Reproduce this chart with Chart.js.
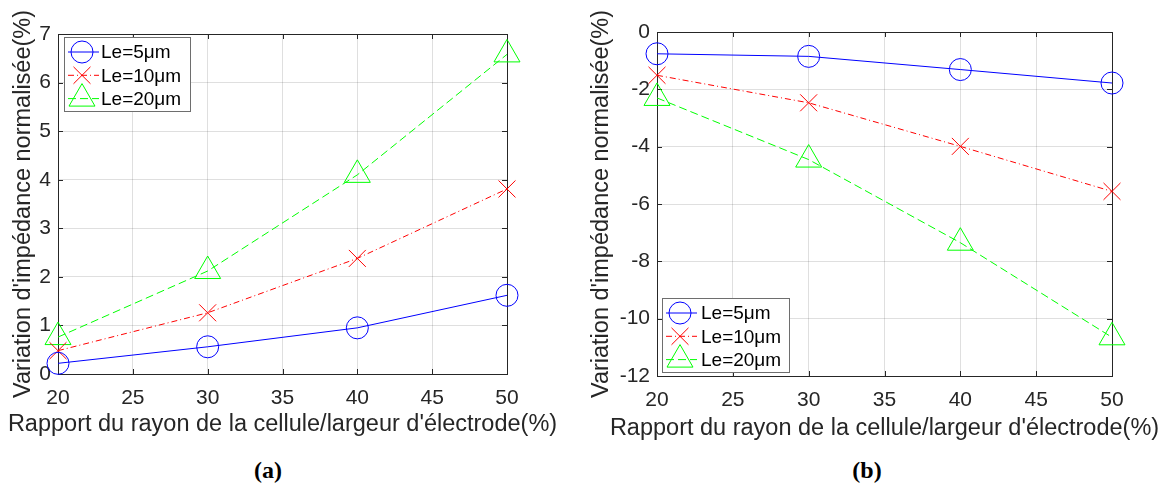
<!DOCTYPE html>
<html>
<head>
<meta charset="utf-8">
<script src="https://cdn.jsdelivr.net/npm/chart.js@4.4.0/dist/chart.umd.min.js"></script>
<style>
  body { margin: 0; background: #fff; width: 1174px; height: 487px; position: relative; overflow: hidden; }
  canvas { position: absolute; top: 0; }
  .cap { position: absolute; width: 60px; text-align: center; font-family: "Liberation Serif", "Times New Roman", serif; font-weight: bold; font-size: 24px; color: #000; }
</style>
</head>
<body>
<canvas id="chartA" width="587" height="440" style="left:0"></canvas>
<canvas id="chartB" width="587" height="442" style="left:587px"></canvas>
<div class="cap" style="left:238px;top:457px">(a)</div>
<div class="cap" style="left:837px;top:457px">(b)</div>
<script>
// x values: rapport rayon cellule / largeur electrode (%)
const ratios = [20, 30, 40, 50];
const seriesNames = ['Le=5μm', 'Le=10μm', 'Le=20μm'];

// (a)
const le5A = [0.22, 0.56, 0.95, 1.62];
const le10A = [0.48, 1.26, 2.38, 3.81];
const le20A = [0.76, 2.12, 4.10, 6.58];

// (b)
const le5B = [-0.76, -0.85, -1.31, -1.78];
const le10B = [-1.51, -2.47, -3.99, -5.56];
const le20B = [-2.30, -4.45, -7.35, -10.65];

const xTitle = "Rapport du rayon de la cellule/largeur d'électrode(%)";
const yTitle = "Variation d'impédance normalisée(%)";

Chart.defaults.font.family = '"Liberation Sans", Arial, sans-serif';
Chart.defaults.color = '#262626';

const styles = [
  { color: '#0000ff', pointStyle: 'circle', radius: 11, dash: [] },
  { color: '#ff0000', pointStyle: 'crossRot', radius: 12, dash: [6, 3, 1, 3] },
  { color: '#00ff00', pointStyle: 'triangle', radius: 15, dash: [8, 4] },
];

const toPoints = (ys) => ratios.map((x, i) => ({ x, y: ys[i] }));

// frame + inward ticks on all 4 sides (matlab box on)
const axesBox = {
  id: 'axesBox',
  beforeDatasetsDraw(chart) {
    const { ctx, chartArea: a, scales: { x, y } } = chart;
    ctx.save();
    ctx.strokeStyle = '#262626';
    ctx.lineWidth = 1;
    ctx.beginPath();
    x.ticks.forEach(t => {
      const px = Math.round(x.getPixelForValue(t.value)) + 0.5;
      ctx.moveTo(px, a.bottom); ctx.lineTo(px, a.bottom - 5);
      ctx.moveTo(px, a.top); ctx.lineTo(px, a.top + 5);
    });
    y.ticks.forEach(t => {
      const py = Math.round(y.getPixelForValue(t.value)) + 0.5;
      ctx.moveTo(a.left, py); ctx.lineTo(a.left + 5, py);
      ctx.moveTo(a.right, py); ctx.lineTo(a.right - 5, py);
    });
    ctx.stroke();
    ctx.strokeRect(Math.round(a.left) + 0.5, Math.round(a.top) + 0.5, Math.round(a.right - a.left), Math.round(a.bottom - a.top));
    ctx.restore();
  }
};

// x title drawn by hand so it is not squeezed to the plot width
const xTitlePlugin = {
  id: 'xTitlePlugin',
  afterDraw(chart, args, opts) {
    const { ctx, chartArea: a } = chart;
    ctx.save();
    ctx.fillStyle = '#262626';
    ctx.font = '23.5px "Liberation Sans", Arial, sans-serif';
    ctx.textAlign = 'center';
    ctx.textBaseline = 'alphabetic';
    ctx.fillText(opts.text, (a.left + a.right) / 2, opts.baseline);
    ctx.restore();
  }
};

// legend drawn like matlab: line segment with marker in the middle
const matLegend = {
  id: 'matLegend',
  afterDraw(chart, args, opts) {
    const { ctx } = chart;
    ctx.save();
    ctx.fillStyle = '#ffffff';
    ctx.fillRect(opts.x, opts.y, opts.w, opts.h);
    ctx.strokeStyle = '#6e6e6e';
    ctx.lineWidth = 1;
    ctx.strokeRect(opts.x + 0.5, opts.y + 0.5, opts.w, opts.h);
    chart.data.datasets.forEach((ds, i) => {
      const cy = opts.y + 15 + i * 23.3;
      const mx = opts.x + 18;
      ctx.strokeStyle = ds.borderColor;
      ctx.lineWidth = 1;
      ctx.setLineDash(ds.borderDash);
      ctx.beginPath();
      ctx.moveTo(opts.x + 4, cy);
      ctx.lineTo(opts.x + 35, cy);
      ctx.stroke();
      ctx.setLineDash([]);
      ctx.fillStyle = 'rgba(0,0,0,0)';
      Chart.helpers.drawPoint(ctx, { pointStyle: ds.pointStyle, radius: ds.pointRadius, rotation: 0, borderWidth: 1 }, mx, cy);
      ctx.fillStyle = '#000';
      ctx.font = '19px "Liberation Sans", Arial, sans-serif';
      ctx.textBaseline = 'middle';
      ctx.fillText(ds.label, opts.x + opts.textX, cy + 1);
    });
    ctx.restore();
  }
};

function makeChart(id, values, yMin, yMax, yStep, cfg) {
  const datasets = values.map((ys, i) => ({
    label: seriesNames[i],
    data: toPoints(ys),
    borderColor: styles[i].color,
    borderWidth: 1,
    borderDash: styles[i].dash,
    pointStyle: styles[i].pointStyle,
    pointRadius: styles[i].radius,
    pointHoverRadius: styles[i].radius,
    pointBorderColor: styles[i].color,
    pointBackgroundColor: 'rgba(0,0,0,0)',
    pointBorderWidth: 1,
    tension: 0,
    clip: false,
  }));

  return new Chart(document.getElementById(id), {
    type: 'line',
    data: { datasets },
    options: {
      responsive: false,
      animation: false,
      layout: { padding: cfg.padding },
      scales: {
        x: {
          type: 'linear',
          min: 20,
          max: 50,
          grid: { color: 'rgba(38,38,38,0.15)', drawTicks: false },
          border: { display: false },
          ticks: { stepSize: 5, padding: 12, font: { size: 21 }, color: '#262626' },
          title: { display: false },
          afterFit: (s) => { s.height = 66; },
        },
        y: {
          min: yMin,
          max: yMax,
          grid: { color: 'rgba(38,38,38,0.15)', drawTicks: false },
          border: { display: false },
          ticks: { stepSize: yStep, padding: 7, font: { size: 21 }, color: '#262626' },
          title: { display: true, text: yTitle, font: { size: 23.5 }, color: '#262626', padding: { top: cfg.yTitlePad, bottom: 0 } },
          afterFit: (s) => { s.width = cfg.yWidth; },
        },
      },
      plugins: {
        legend: { display: false },
        tooltip: { enabled: false },
        matLegend: cfg.legend,
        xTitlePlugin: { text: xTitle, baseline: cfg.xTitleBaseline },
      },
    },
    plugins: [axesBox, xTitlePlugin, matLegend],
  });
}

makeChart('chartA', [le5A, le10A, le20A], 0, 7, 1, {
  padding: { left: 0, top: 34, right: 80, bottom: 0 },
  yWidth: 58,
  yTitlePad: 9,
  xTitleBaseline: 431,
  legend: { x: 64, y: 37, w: 126, h: 74, textX: 37 },
});

makeChart('chartB', [le5B, le10B, le20B], -12, 0, 2, {
  padding: { left: 0, top: 32, right: 62, bottom: 0 },
  yWidth: 70,
  yTitlePad: 0,
  xTitleBaseline: 434.5,
  legend: { x: 75, y: 298, w: 127, h: 74, textX: 39 },
});
</script>
</body>
</html>
